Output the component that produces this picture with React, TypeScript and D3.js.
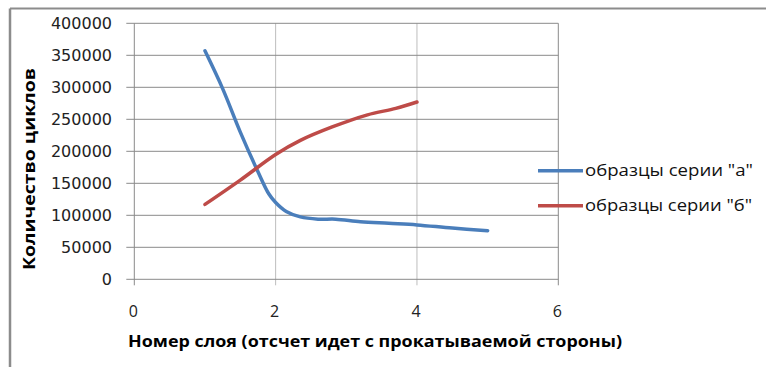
import React from "react";
import * as d3 from "d3";

const seriesNames = ['образцы серии "а"', 'образцы серии "б"'];
const xA = [1, 1.25, 1.5, 1.75, 1.9, 2, 2.15, 2.35, 2.6, 2.85, 3.2, 3.6, 4, 4.5, 5];
const yA = [357000, 298000, 230000, 168000, 134000, 120000, 106000, 97500, 94000, 94000, 90000, 87500, 85000, 80000, 76000];
const xB = [1, 1.5, 2, 2.35, 2.8, 3.3, 3.7, 4];
const yB = [117000, 155000, 195000, 217000, 238000, 257000, 267000, 277000];
const xTicks = [0, 2, 4, 6];
const yTicks = [0, 50000, 100000, 150000, 200000, 250000, 300000, 350000, 400000];
const xTitle = "Номер слоя (отсчет идет с прокатываемой стороны)";
const yTitle = "Количество циклов";

const colors = ["#4A7EBB", "#BE4B48"];

export default function App() {
  const x = d3.scaleLinear().domain([0, 6]).range([134.3, 558.3]);
  const y = d3.scaleLinear().domain([0, 400000]).range([279.3, 23.3]);
  const line = d3
    .line<[number, number]>()
    .x((d) => x(d[0]))
    .y((d) => y(d[1]))
    .curve(d3.curveCatmullRom.alpha(0.5));
  const dataA: [number, number][] = xA.map((v, i) => [v, yA[i]]);
  const dataB: [number, number][] = xB.map((v, i) => [v, yB[i]]);
  const series = [dataA, dataB];
  const legendY = [170.7, 205.7];

  return (
    <svg
      width={766}
      height={367}
      style={{ position: "absolute", left: 0, top: 0, background: "#fff" }}
    >
      <rect x={0} y={0} width={766} height={367} fill="#fff" />
      {/* frame */}
      <line x1={10} y1={8.5} x2={766} y2={8.5} stroke="#8c8c8c" strokeWidth={2} />
      <line x1={10} y1={8.5} x2={10} y2={367} stroke="#8c8c8c" strokeWidth={2.5} />

      {/* vertical gridlines */}
      {xTicks.map((t) => (
        <line
          key={"vx" + t}
          x1={x(t)}
          x2={x(t)}
          y1={y(400000)}
          y2={y(0) + 6}
          stroke={t === 0 || t === 6 ? "#8a8a8a" : "#bdbdbd"}
          strokeWidth={1}
        />
      ))}
      {/* horizontal gridlines */}
      {yTicks.map((t) => (
        <line
          key={"hy" + t}
          x1={x(0) - 8}
          x2={x(6)}
          y1={y(t)}
          y2={y(t)}
          stroke="#8a8a8a"
          strokeWidth={1}
        />
      ))}

      {/* y tick labels */}
      {yTicks.map((t) => (
        <text
          key={"yl" + t}
          x={112}
          y={y(t) + 5.5}
          textAnchor="end"
          fontFamily="DejaVu Sans"
          fontSize={16}
          fill="#222"
        >
          {t}
        </text>
      ))}
      {/* x tick labels */}
      {xTicks.map((t) => (
        <text
          key={"xl" + t}
          x={x(t) - 1}
          y={316.7}
          textAnchor="middle"
          fontFamily="Open Sans"
          fontSize={16}
          fill="#222"
        >
          {t}
        </text>
      ))}

      {/* series */}
      {series.map((d, i) => (
        <path
          key={"s" + i}
          d={line(d) || ""}
          fill="none"
          stroke={colors[i]}
          strokeWidth={3.5}
          strokeLinecap="round"
          strokeLinejoin="round"
        />
      ))}

      {/* legend */}
      {seriesNames.map((n, i) => (
        <g key={"lg" + i}>
          <line
            x1={538}
            x2={583}
            y1={legendY[i]}
            y2={legendY[i]}
            stroke={colors[i]}
            strokeWidth={3.5}
          />
          <text
            x={585}
            y={legendY[i] + 5.5}
            fontFamily="Open Sans"
            fontSize={16}
            fill="#111"
            textLength={i === 0 ? 168 : 167}
            lengthAdjust="spacingAndGlyphs"
          >
            {n}
          </text>
        </g>
      ))}

      {/* axis titles */}
      <text
        x={375}
        y={346.7}
        textAnchor="middle"
        fontFamily="Open Sans"
        fontWeight="bold"
        fontSize={16}
        fill="#000"
        textLength={494}
        lengthAdjust="spacingAndGlyphs"
      >
        {xTitle}
      </text>
      <text
        transform={`translate(35,169) rotate(-90)`}
        textAnchor="middle"
        fontFamily="Open Sans"
        fontWeight="bold"
        fontSize={16}
        fill="#000"
        textLength={202}
        lengthAdjust="spacingAndGlyphs"
      >
        {yTitle}
      </text>
    </svg>
  );
}
